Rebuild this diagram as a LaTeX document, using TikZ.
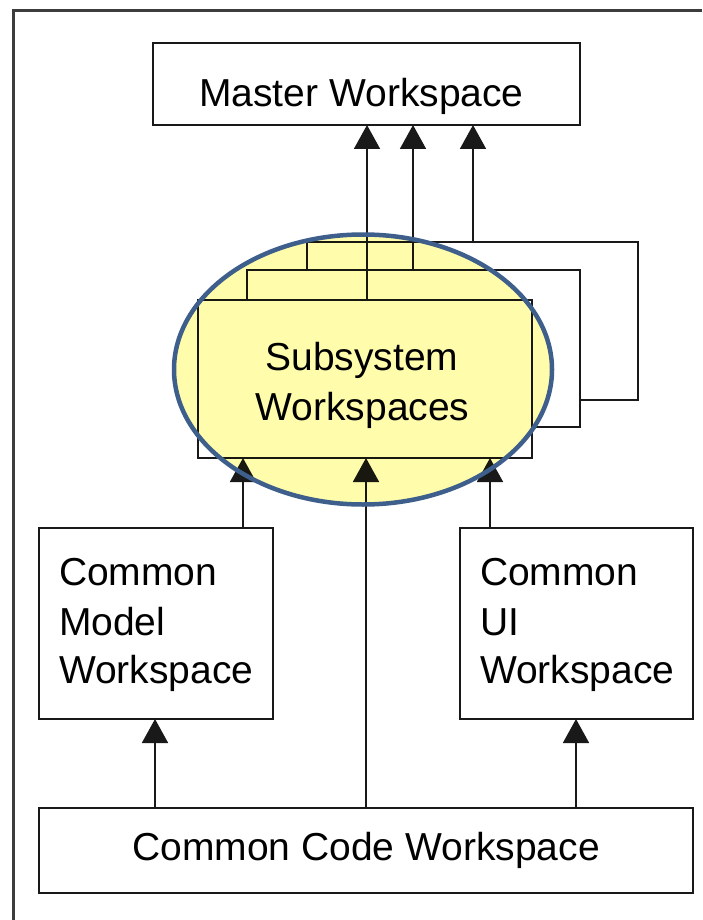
\documentclass[tikz,border=0pt]{standalone}
\usepackage{fontspec}
\setmainfont{Liberation Sans}
\usetikzlibrary{arrows.meta}
\definecolor{framegray}{RGB}{60,60,60}
\definecolor{lineblk}{RGB}{25,25,25}
\definecolor{hiyellow}{RGB}{255,253,172}
\definecolor{hiblue}{RGB}{62,94,139}
\tikzset{
  wsbox/.style={draw=lineblk, line width=1.8pt, fill=white, rectangle, inner sep=0pt, outer sep=0pt},
  lbl/.style={inner sep=0pt, outer sep=0pt, font=\fontsize{39}{49}\selectfont, text=black},
  dep/.style={draw=lineblk, line width=1.8pt, -{Triangle[width=26pt,length=24pt]}},
}
\begin{document}
\begin{tikzpicture}[x=1pt,y=-1pt]
\useasboundingbox (0,0) rectangle (702,920);
% outer frame
\draw[framegray, line width=3pt] (13,920) -- (13,11) -- (702,11);

% boxes
\node[wsbox, minimum width=427pt, minimum height=82pt] (master) at (366.5,84) {};
\node[wsbox, minimum width=331pt, minimum height=158pt] (back3) at (472.5,321) {};
\node[wsbox, minimum width=333pt, minimum height=157pt] (back2) at (413.5,348.5) {};
\node[wsbox, minimum width=334pt, minimum height=158pt] (front) at (365,379) {};
\node[wsbox, minimum width=234pt, minimum height=191pt] (model) at (156,623.5) {};
\node[wsbox, minimum width=233pt, minimum height=191pt] (ui) at (576.5,623.5) {};
\node[wsbox, minimum width=654pt, minimum height=85pt] (code) at (366,850.5) {};

% connectors to master
\draw[dep] (front.north -| 367,0) -- (master.south -| 367,0);
\draw[dep] (back2.north -| 413,0) -- (master.south -| 413,0);
\draw[dep] (back3.north -| 473,0) -- (master.south -| 473,0);

% connectors to subsystem
\draw[dep] (model.north -| 243,0) -- (front.south -| 243,0);
\draw[dep] (code.north -| 366,0) -- (front.south -| 366,0);
\draw[dep] (ui.north -| 490,0) -- (front.south -| 490,0);

% connectors from common code
\draw[dep] (code.north -| 155,0) -- (model.south -| 155,0);
\draw[dep] (code.north -| 576,0) -- (ui.south -| 576,0);

% texts
\node[lbl, anchor=base] (mastert) at (361.5,107) {Master Workspace};
\node[lbl, anchor=base] (subt1) at (362,370) {Subsystem};
\node[lbl, anchor=base] (subt2) at (362.5,420) {Workspaces};
\node[lbl, anchor=base west] (modelt1) at (59,585) {Common};
\node[lbl, anchor=base west] (modelt2) at (59,635) {Model};
\node[lbl, anchor=base west] (modelt3) at (59,683) {Workspace};
\node[lbl, anchor=base west] (uit1) at (480,585) {Common};
\node[lbl, anchor=base west] (uit2) at (480,635) {UI};
\node[lbl, anchor=base west] (uit3) at (480,683) {Workspace};
\node[lbl, anchor=base] (codet) at (366,860) {Common Code Workspace};

% highlight ellipse
\begin{scope}[blend mode=multiply]
\fill[hiyellow] (363,369.5) ellipse [x radius=189pt, y radius=135pt];
\end{scope}
\draw[hiblue, line width=4.5pt] (363,369.5) ellipse [x radius=189pt, y radius=135pt];
\end{tikzpicture}
\end{document}
